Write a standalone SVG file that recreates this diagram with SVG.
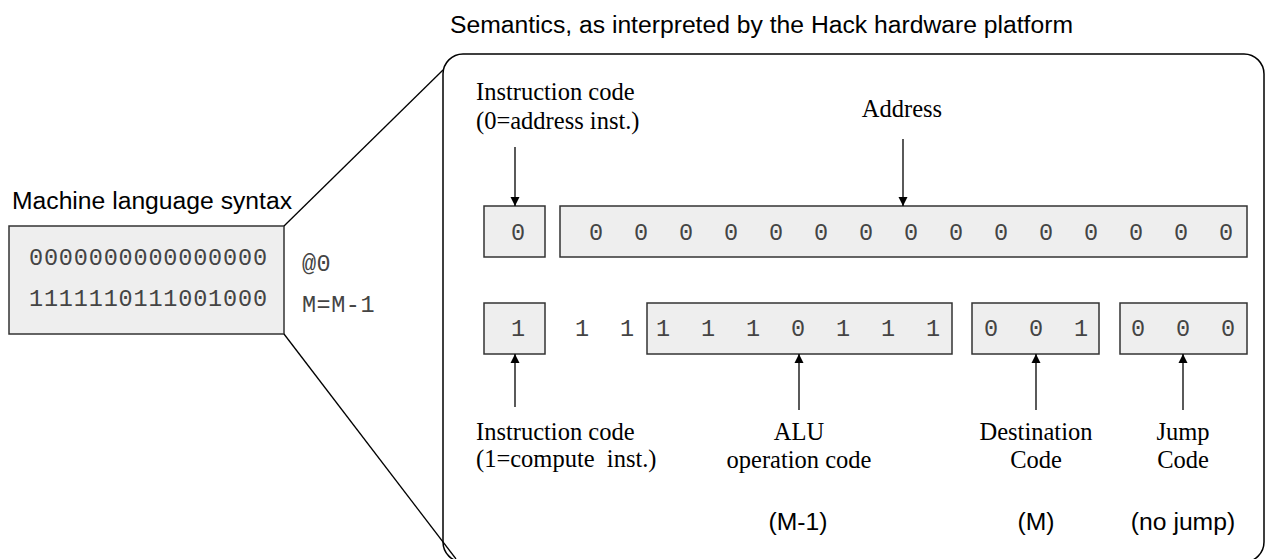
<svg xmlns="http://www.w3.org/2000/svg" width="1265" height="559" viewBox="0 0 1265 559">
<style>
.sans{font-family:"Liberation Sans",Arial,sans-serif;font-size:24.7px;fill:#000}
.serif{font-family:"Liberation Serif","Times New Roman",serif;font-size:24.5px;fill:#000}
.mono{font-family:"Liberation Mono","Courier New",monospace;font-size:23.5px;fill:#444}
.box{fill:#eeeeee;stroke:#333;stroke-width:1.5}
.frame{fill:none;stroke:#000;stroke-width:1.5}
.conn{stroke:#000;stroke-width:1.3;fill:none}
.mid{text-anchor:middle}
</style>
<defs>
<marker id="arr" markerUnits="userSpaceOnUse" markerWidth="10" markerHeight="10" refX="9" refY="5" orient="auto">
<path d="M0,0.5 L9,5 L0,9.5 Z" fill="#000"/>
</marker>
</defs>

<text class="sans" x="450" y="33">Semantics, as interpreted by the Hack hardware platform</text>

<g id="syntax">
<text class="sans" x="12" y="209">Machine language syntax</text>
<rect class="box" x="9" y="226" width="275" height="108"/>
<text class="mono" x="29" y="265" textLength="238" lengthAdjust="spacing">0000000000000000</text>
<text class="mono" x="29" y="306" textLength="238" lengthAdjust="spacing">1111110111001000</text>
<text class="mono" x="302" y="271" letter-spacing="0.5">@0</text>
<text class="mono" x="302" y="312" letter-spacing="0.5">M=M-1</text>
</g>

<g id="semantics">
<rect class="frame" x="443" y="54" width="821" height="508" rx="20" ry="20"/>
</g>

<g id="a-code">
<text class="serif" x="476" y="100">Instruction code</text>
<text class="serif" x="476" y="129">(0=address inst.)</text>
<rect class="box" x="484" y="206" width="61" height="51"/>
<text class="mono mid" x="518" y="240">0</text>
</g>

<g id="address">
<text class="serif mid" x="902" y="117">Address</text>
<rect class="box" x="560" y="206" width="687" height="51"/>
<text class="mono mid" x="596 641 686 731 776 821 866 911 956 1001 1046 1091 1136 1181 1226" y="240">000000000000000</text>
</g>

<g id="c-code">
<rect class="box" x="484" y="303" width="61" height="51"/>
<text class="mono mid" x="518" y="336">1</text>
<text class="mono mid" x="582 627" y="336">11</text>
<text class="serif" x="476" y="440">Instruction code</text>
<text class="serif" x="476" y="467" xml:space="preserve">(1=compute  inst.)</text>
</g>

<g id="alu">
<rect class="box" x="647" y="303" width="305" height="51"/>
<text class="mono mid" x="663 708 753 798 843 888 933" y="336">1110111</text>
<text class="serif mid" x="799" y="440">ALU</text>
<text class="serif mid" x="799" y="468">operation code</text>
<text class="sans mid" x="798" y="530">(M-1)</text>
</g>

<g id="dest">
<rect class="box" x="972" y="303" width="127" height="51"/>
<text class="mono mid" x="991 1036 1081" y="336">001</text>
<text class="serif mid" x="1036" y="440">Destination</text>
<text class="serif mid" x="1036" y="468">Code</text>
<text class="sans mid" x="1036" y="530">(M)</text>
</g>

<g id="jump">
<rect class="box" x="1120" y="303" width="127" height="51"/>
<text class="mono mid" x="1138 1183 1228" y="336">000</text>
<text class="serif mid" x="1183" y="440">Jump</text>
<text class="serif mid" x="1183" y="468">Code</text>
<text class="sans mid" x="1183" y="530">(no jump)</text>
</g>

<g id="connectors">
<line class="conn" x1="284" y1="226" x2="443" y2="70"/>
<line class="conn" x1="284" y1="334" x2="456" y2="559"/>
<line class="conn" x1="515" y1="147" x2="515" y2="206" marker-end="url(#arr)"/>
<line class="conn" x1="903" y1="139" x2="903" y2="206" marker-end="url(#arr)"/>
<line class="conn" x1="515" y1="407" x2="515" y2="354" marker-end="url(#arr)"/>
<line class="conn" x1="799" y1="410" x2="799" y2="354" marker-end="url(#arr)"/>
<line class="conn" x1="1036" y1="410" x2="1036" y2="354" marker-end="url(#arr)"/>
<line class="conn" x1="1183" y1="410" x2="1183" y2="354" marker-end="url(#arr)"/>
</g>
</svg>
